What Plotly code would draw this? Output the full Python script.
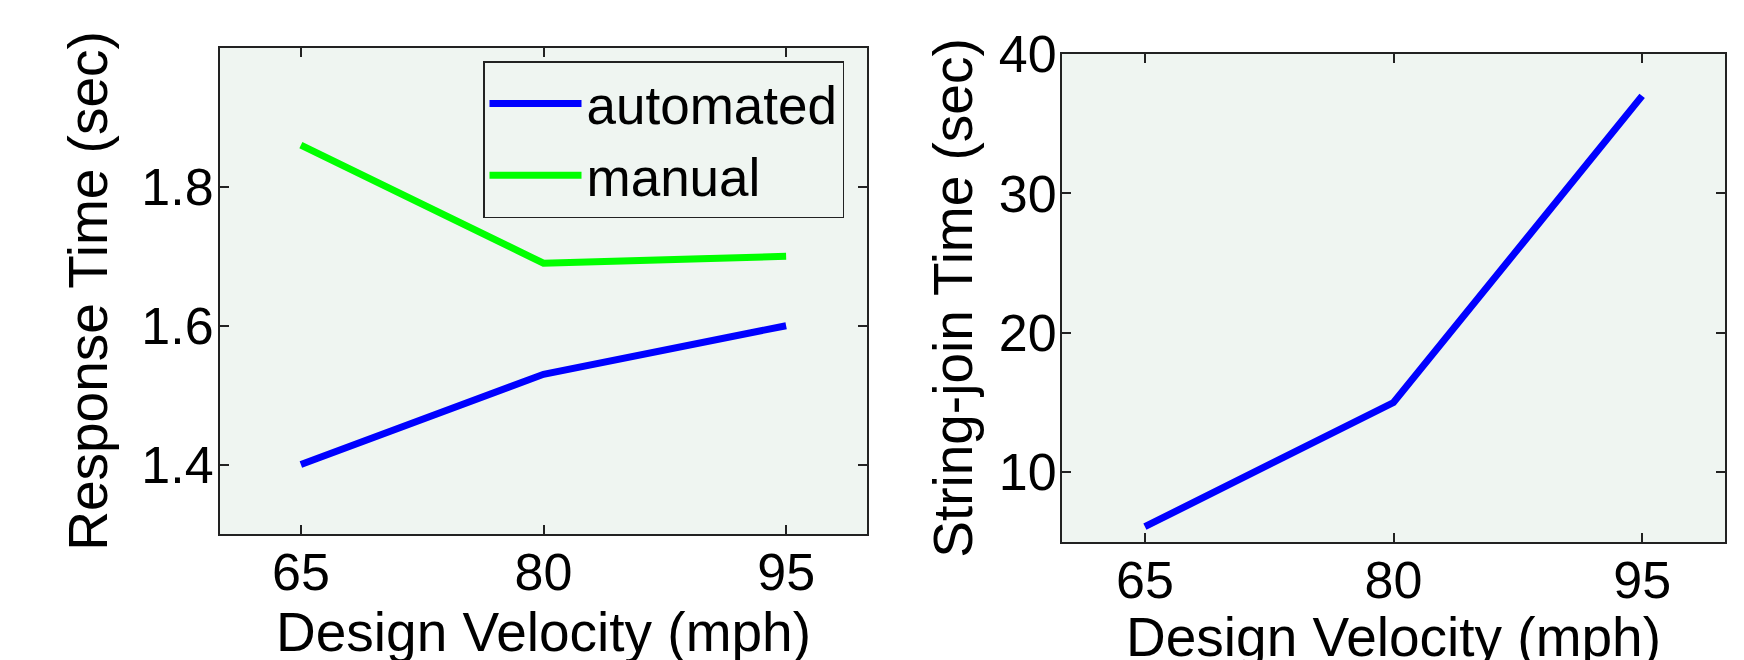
import plotly.graph_objects as go

velocity = [65, 80, 95]
automated = [1.40, 1.53, 1.60]
manual = [1.86, 1.69, 1.70]
string_join = [6.1, 15.0, 37.0]

x_ticks = [65, 80, 95]
y1_ticks = [1.4, 1.6, 1.8]
y2_ticks = [10, 20, 30, 40]

FONT = "Liberation Sans, Arial, Helvetica, sans-serif"
FS = 52
TFS = 55
BG = "#eff5f1"
OFF = 8  # page body margin offset

W, H = 1744, 660


def xd(a, b):
    return [(a - OFF) / W, (b - OFF) / W]


def yd(top, bottom):
    return [(H - (bottom - OFF)) / H, (H - (top - OFF)) / H]


fig = go.Figure()
fig.add_trace(go.Scatter(x=velocity, y=automated, mode="lines", name="automated",
                         line=dict(color="#0000ff", width=7), xaxis="x", yaxis="y"))
fig.add_trace(go.Scatter(x=velocity, y=manual, mode="lines", name="manual",
                         line=dict(color="#00ff00", width=7), xaxis="x", yaxis="y"))
fig.add_trace(go.Scatter(x=velocity, y=string_join, mode="lines", name="string-join",
                         showlegend=False,
                         line=dict(color="#0000ff", width=7), xaxis="x2", yaxis="y2"))

axis_common = dict(showgrid=False, zeroline=False, showline=True, linecolor="#222222",
                   linewidth=2, mirror="allticks", ticks="inside", ticklen=9,
                   tickwidth=1.5, tickcolor="#222222", automargin=False,
                   tickfont=dict(family=FONT, size=FS, color="black"))

fig.update_layout(
    width=W, height=H,
    margin=dict(l=0, r=0, t=0, b=0),
    paper_bgcolor="white",
    plot_bgcolor=BG,
    font=dict(family=FONT, size=FS, color="black"),
    xaxis=dict(domain=xd(220, 867), range=[60, 100], tickvals=x_ticks,
               anchor="y", ticklabelstandoff=-8,
               title=dict(text="Design Velocity (mph)", standoff=6,
                          font=dict(family=FONT, size=TFS)), **axis_common),
    yaxis=dict(domain=yd(48, 534), range=[1.3, 2.0], tickvals=y1_ticks,
               tickformat=".1f", anchor="x", ticklabelstandoff=-6,
               title=dict(text="Response Time (sec)", standoff=16,
                          font=dict(family=FONT, size=TFS)), **axis_common),
    xaxis2=dict(domain=xd(1062, 1725), range=[60, 100], tickvals=x_ticks,
                anchor="y2", ticklabelstandoff=-8,
                title=dict(text="Design Velocity (mph)", standoff=6,
                           font=dict(family=FONT, size=TFS)), **axis_common),
    yaxis2=dict(domain=yd(54, 542), range=[5, 40], tickvals=y2_ticks,
                anchor="x2", ticklabelstandoff=-7,
                title=dict(text="String-join Time (sec)", standoff=9,
                           font=dict(family=FONT, size=TFS)), **axis_common),
    legend=dict(x=(483 - OFF) / W, y=(H - (61 - OFF)) / H, xanchor="left", yanchor="top",
                bgcolor=BG, bordercolor="#222222", borderwidth=1.5,
                font=dict(family=FONT, size=53, color="black"),
                itemwidth=92, tracegroupgap=0,
                entrywidth=265, entrywidthmode="pixels"),
    showlegend=True,
)

fig.write_html("out.html")
